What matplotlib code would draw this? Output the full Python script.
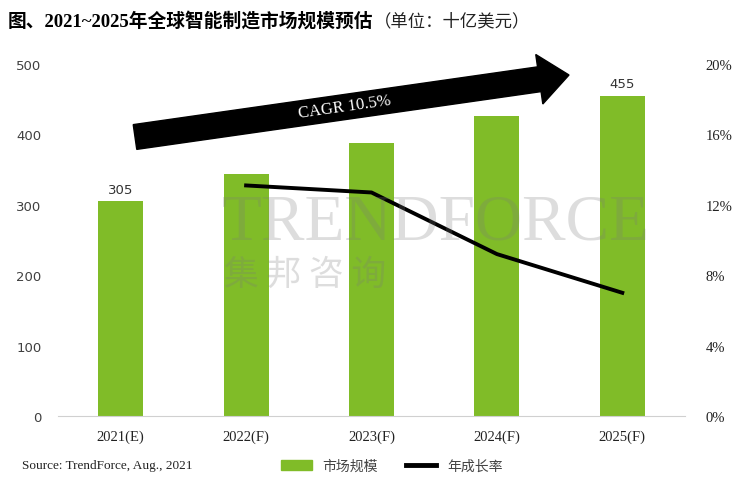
import math

import numpy as np
import matplotlib
matplotlib.use('Agg')
import matplotlib.pyplot as plt
from matplotlib.patches import FancyArrow, Patch
from matplotlib.lines import Line2D
from matplotlib.transforms import IdentityTransform

plt.rcParams['font.family'] = ['DejaVu Sans', 'Noto Sans CJK SC']

years = ['2021(E)', '2022(F)', '2023(F)', '2024(F)', '2025(F)']
market_size = [305, 344, 388, 426, 455]          # 十亿美元
growth_rate = [np.nan, 13.1, 12.7, 9.2, 7.0]      # %
value_labels = ['305', '', '', '', '455']
left_ticks = [0, 100, 200, 300, 400, 500]
right_ticks = [0, 4, 8, 12, 16, 20]

GREEN = '#80bc28'
SERIF = ['Liberation Serif', 'Noto Sans CJK SC']
CJK = ['Noto Sans CJK SC', 'DejaVu Sans']

W, H = 756, 489
fig = plt.figure(figsize=(W / 100, H / 100), dpi=100)
ax = fig.add_axes([58 / W, 72 / H, 627 / W, 352 / H])

x = np.arange(len(years))
bars = ax.bar(x, market_size, width=0.36, color=GREEN, zorder=2)
ax.bar_label(bars, labels=value_labels, padding=4, fontsize=9.5, color='#333333')

ax.set_xlim(-0.5, len(years) - 0.5)
ax.set_ylim(0, 500)
ax.set_yticks(left_ticks)
ax.tick_params(axis='y', length=0, pad=12, labelsize=9.5, labelcolor='#404040')
ax.set_xticks(x)
ax.set_xticklabels(years, family=SERIF, fontsize=10.5, color='#222222')
ax.tick_params(axis='x', length=0, pad=10)
for s in ['top', 'left', 'right']:
    ax.spines[s].set_visible(False)
ax.spines['bottom'].set_color('#d0d0d0')

ax2 = ax.twinx()
ax2.plot(x, growth_rate, color='black', lw=2.8, zorder=3)
ax2.set_ylim(0, 20)
ax2.set_yticks(right_ticks)
ax2.set_yticklabels([f'{t}%' for t in right_ticks], family=SERIF, fontsize=10.5, color='#222222')
ax2.tick_params(axis='y', length=0, pad=15)
for s in ax2.spines.values():
    s.set_visible(False)

# watermark
fig.text(222 / W, 1 - 224 / H, 'TRENDFORCE', family=SERIF, fontsize=47, color='#7a7a7a',
         alpha=0.25, va='center', ha='left', zorder=5)
fig.text(224 / W, 1 - 275 / H, '集 邦 咨 询', family=CJK, fontsize=25, color='#7a7a7a',
         alpha=0.25, va='center', ha='left', zorder=5)

# CAGR arrow (pixel coords, y from bottom)
tail = (135, H - 138)
tip = (569, H - 76)
arrow = FancyArrow(tail[0], tail[1], tip[0] - tail[0], tip[1] - tail[1], width=25,
                   head_width=50, head_length=30, length_includes_head=True,
                   color='black', transform=IdentityTransform(), zorder=6)
fig.add_artist(arrow)
ang = math.degrees(math.atan2(tip[1] - tail[1], tip[0] - tail[0]))
fig.text(345 / W, 1 - 107 / H, 'CAGR 10.5%', family=SERIF, fontsize=12, color='white',
         rotation=ang, rotation_mode='anchor', ha='center', va='center', zorder=7)

# title: bold part, then unit right after it
t1 = fig.text(8 / W, 1 - 21 / H, '图、2021~2025年全球智能制造市场规模预估', family=SERIF,
              fontweight='bold', fontsize=13.5, color='black', va='center')
fig.canvas.draw()
bb = t1.get_window_extent()
fig.text(bb.x1 / W, 1 - 21 / H, '（单位：十亿美元）', family=CJK, fontsize=12.5,
         color='#222222', va='center')

fig.text(22 / W, 1 - 466 / H, 'Source: TrendForce, Aug., 2021', family=SERIF,
         fontsize=9.5, color='#222222', va='center')

handles = [Patch(color=GREEN), Line2D([], [], color='black', lw=3.5)]
fig.legend(handles, ['市场规模', '年成长率'], loc='center', bbox_to_anchor=(392 / W, 1 - 467 / H),
           ncol=2, frameon=False, prop={'family': CJK, 'size': 10}, labelcolor='#444444',
           handlelength=2.2, handleheight=0.7, columnspacing=2.0)

fig.savefig('out.png', dpi=100)
